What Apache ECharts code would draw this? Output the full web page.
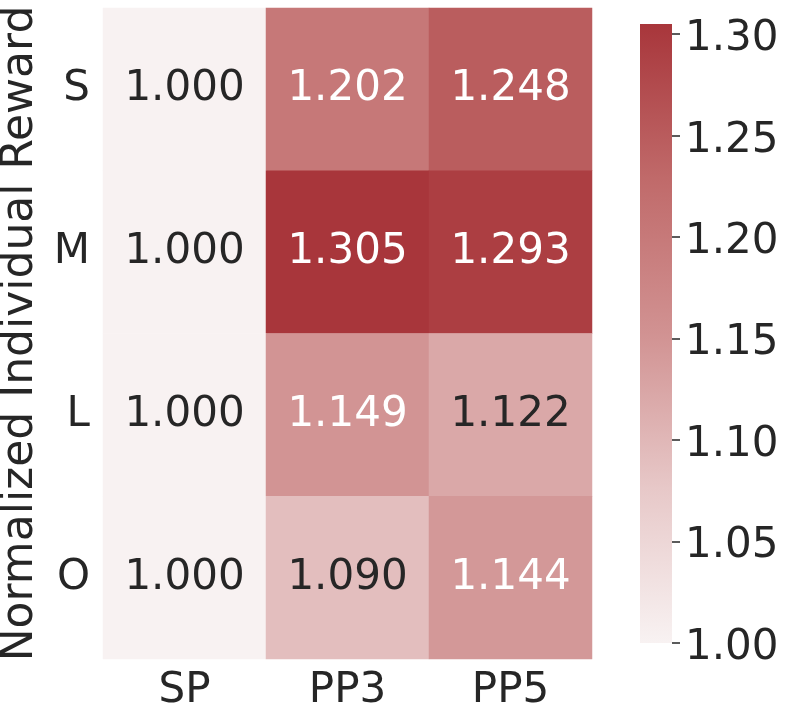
<!DOCTYPE html>
<html>
<head>
<meta charset="utf-8">
<script src="https://cdn.jsdelivr.net/npm/echarts@6/dist/echarts.min.js"></script>
<style>
html,body{margin:0;padding:0;background:#fff;}
#chart{width:788px;height:721px;}
</style>
</head>
<body>
<div id="chart"></div>
<script>
const columns = ['SP', 'PP3', 'PP5'];
const rows = ['S', 'M', 'L', 'O'];
const valuesS = [1.000, 1.202, 1.248];
const valuesM = [1.000, 1.305, 1.293];
const valuesL = [1.000, 1.149, 1.122];
const valuesO = [1.000, 1.090, 1.144];
const colorbarTicks = [1.00, 1.05, 1.10, 1.15, 1.20, 1.25, 1.30];
const yTitle = 'Normalized Individual Reward';
const vmin = 1.0, vmax = 1.305;
const palette = ['#f8f2f2', '#e7c8c8', '#d19292', '#c06a6a', '#a8363b'];

const rowValues = [valuesS, valuesM, valuesL, valuesO];
const data = [];
rowValues.forEach((vals, r) => {
  vals.forEach((v, c) => {
    data.push({
      value: [c, r, v],
      label: { color: v > 1.13 ? '#ffffff' : '#262626' }
    });
  });
});

const FONT = 'DejaVu Sans';
const chart = echarts.init(document.getElementById('chart'));

// colorbar axis spans the tick range; the gradient rect spans vmin..vmax
const cbTop = 24, cbHeight = 619;
const tickMax = colorbarTicks[colorbarTicks.length - 1];
const axTop = cbTop + cbHeight * (vmax - tickMax) / (vmax - vmin);
const axHeight = cbHeight - (axTop - cbTop);

chart.setOption({
  backgroundColor: '#ffffff',
  animation: false,
  textStyle: { fontFamily: FONT },
  grid: [
    { left: 103, top: 8, width: 489, height: 651, containLabel: false, outerBoundsMode: 'none' },
    { left: 640, top: axTop, width: 32, height: axHeight, containLabel: false, outerBoundsMode: 'none' }
  ],
  xAxis: [
    {
      type: 'category', data: columns, gridIndex: 0, position: 'bottom',
      axisLine: { show: false }, axisTick: { show: false }, splitLine: { show: false },
      axisLabel: { fontSize: 42, color: '#262626', margin: 11, fontFamily: FONT }
    },
    { type: 'value', gridIndex: 1, min: 0, max: 1, show: false }
  ],
  yAxis: [
    {
      type: 'category', data: rows, gridIndex: 0, inverse: true,
      axisLine: { show: false }, axisTick: { show: false }, splitLine: { show: false },
      axisLabel: { fontSize: 42, color: '#262626', margin: 13, fontFamily: FONT },
      name: yTitle, nameLocation: 'middle', nameRotate: 90, nameGap: 48,
      nameTextStyle: { fontSize: 44, color: '#262626', fontFamily: FONT }
    },
    {
      type: 'value', gridIndex: 1, position: 'right', min: colorbarTicks[0], max: tickMax, interval: 0.05,
      axisLine: { show: true, onZero: false, lineStyle: { color: '#ffffff', opacity: 0, width: 0 } },
      splitLine: { show: false },
      axisTick: { show: true, inside: false, length: 8, lineStyle: { color: '#262626', width: 1.5 } },
      axisLabel: { fontSize: 42, color: '#262626', margin: 13, fontFamily: FONT,
        verticalAlign: 'top', lineHeight: 10, formatter: v => v.toFixed(2) }
    }
  ],
  visualMap: {
    show: false, type: 'continuous', seriesIndex: 0, min: vmin, max: vmax,
    inRange: { color: palette }
  },
  series: [{
    type: 'heatmap', xAxisIndex: 0, yAxisIndex: 0, data: data,
    itemStyle: { borderWidth: 0 },
    label: { show: true, fontSize: 42, fontFamily: FONT, formatter: p => p.value[2].toFixed(3) },
    emphasis: { disabled: true }
  }, {
    type: 'custom', xAxisIndex: 1, yAxisIndex: 1, clip: false, silent: true, z: 1,
    data: [[0, vmin, 1, vmax]],
    renderItem: function (params, api) {
      const p0 = api.coord([api.value(0), api.value(1)]);
      const p1 = api.coord([api.value(2), api.value(3)]);
      const n = palette.length;
      return {
        type: 'rect',
        shape: { x: p0[0], y: p1[1], width: p1[0] - p0[0], height: p0[1] - p1[1] },
        style: {
          fill: new echarts.graphic.LinearGradient(0, 1, 0, 0,
            palette.map((c, i) => ({ offset: i / (n - 1), color: c })))
        }
      };
    }
  }]
});
</script>
</body>
</html>
